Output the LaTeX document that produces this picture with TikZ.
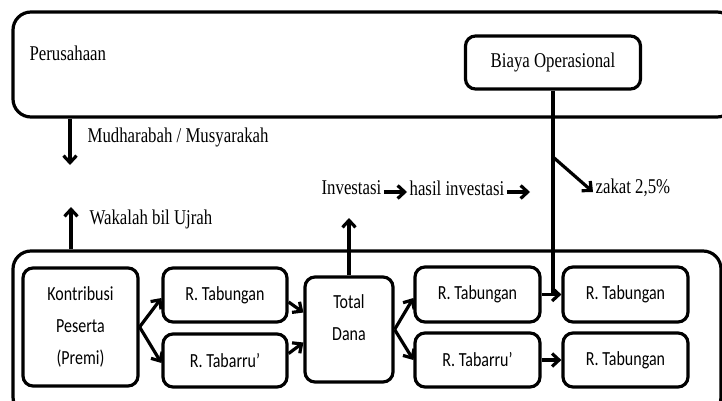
\documentclass[tikz,border=0pt]{standalone}
\usepackage{fontspec}
\setmainfont{Liberation Serif}[FakeStretch=0.8]
\newfontfamily\calib{Carlito}[FakeStretch=0.8]
\usetikzlibrary{arrows.meta,positioning}

\begin{document}
\begin{tikzpicture}[x=1pt,y=-1pt,line width=3.2pt,
    >={Straight Barb[length=7pt,width=13pt]},
    big/.style={draw,rounded corners=18pt,inner sep=0pt},
    box/.style={draw,rounded corners=10pt,inner sep=0pt,align=center,
      font=\calib\fontsize{20}{32}\selectfont},
    lbl/.style={inner sep=1pt,anchor=west,font=\fontsize{21}{24}\selectfont}]

    \useasboundingbox (0,0) rectangle (722,401);

    % outer frames
    \node[big,minimum width=722pt,minimum height=105pt] (comp) at (374,64.5) {};
    \node[big,minimum width=708pt,minimum height=164pt] (fund) at (367,333) {};

    \node[lbl] (perus) at (27,53) {Perusahaan};
    \node[draw,rounded corners=10pt,minimum width=175pt,minimum height=53pt,
      font=\fontsize{21}{24}\selectfont] (biaya) at (553,62.5) {Biaya Operasional};

    % dana peserta
    \node[box,minimum width=115pt,minimum height=118pt] (kontrib) at (80.5,327) {Kontribusi\\Peserta\\(Premi)};
    \node[box,minimum width=124pt,minimum height=54pt] (tab1)  at (225,295)   {R. Tabungan};
    \node[box,minimum width=124pt,minimum height=53pt] (tabr1) at (225,360.5) {R. Tabarru’};
    \node[box,minimum width=88pt,minimum height=105pt,text depth=23pt] (total) at (349,329.5) {Total\\Dana};
    \node[box,minimum width=125pt,minimum height=55pt] (tab2)  at (477.5,294.5) {R. Tabungan};
    \node[box,minimum width=125pt,minimum height=54pt] (tabr2) at (477.5,360)   {R. Tabarru’};
    \node[box,minimum width=125pt,minimum height=55pt] (tab3)  at (625.5,294.5) {R. Tabungan};
    \node[box,minimum width=125pt,minimum height=54pt] (tab4)  at (625.5,360)   {R. Tabungan};

    % labels
    \node[lbl] (mudh)   at (85,137)  {Mudharabah / Musyarakah};
    \node[lbl] (wakal)  at (87,219)  {Wakalah bil Ujrah};
    \node[lbl] (invest) at (319,188) {Investasi};
    \node[lbl] (hasil)  at (407,188) {hasil investasi};
    \node[lbl] (zakat)  at (593,188) {zakat 2,5\%};

    \coordinate (mtip) at (70,165);
    \coordinate (wtip) at (71,207);
    \coordinate (itip) at (349,218);
    \coordinate (htip) at (530,192);
    \coordinate (zk)   at (553,157);

    \path[->] (kontrib.east) edge ([yshift=-3pt]tab1.west)
              (kontrib.east) edge ([yshift=-2.5pt]tabr1.west)
              ([yshift=-7pt]tab1.east) edge ([yshift=17pt]total.west)
              ([yshift=7pt]tabr1.east) edge ([yshift=-13pt]total.west)
              (total.east) edge ([yshift=-3.5pt]tab2.west)
              (total.east) edge (tabr2.west)
              (tab2.east) edge (tab3.west)
              (tabr2.east) edge (tab4.west);

    \draw[->] (comp.south -| mtip) -- (mtip);
    \draw[->] (fund.north -| wtip) -- (wtip);
    \draw[->] (total.north) -- (itip);
    \draw[->] ([yshift=-4pt]invest.east) -- ([yshift=-4pt]hasil.west);
    \draw[->] ([yshift=-4pt]hasil.east) -- (htip);
    \draw (biaya.south) -- (biaya.south |- tab3.west);
    \draw[->] (zk) -- ([yshift=-4pt]zakat.west);
\end{tikzpicture}
\end{document}
